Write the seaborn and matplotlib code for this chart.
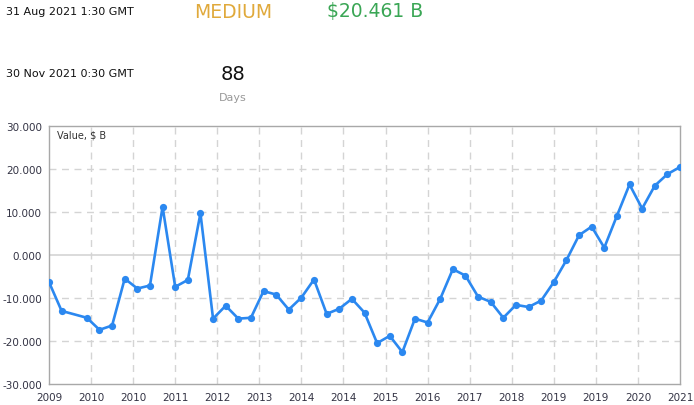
import matplotlib
matplotlib.use("Agg")
import matplotlib.pyplot as plt
import seaborn as sns
import numpy as np
import pandas as pd

# ---- data ----
quarters = pd.period_range("2009Q1", "2021Q3", freq="Q").delete(2)
values = [-6.3, -13.0, -14.6, -17.4, -16.4, -5.5, -7.8, -7.1, 11.2, -7.4,
          -5.8, 9.7, -14.8, -11.8, -14.8, -14.6, -8.4, -9.2, -12.7, -9.9,
          -5.7, -13.7, -12.5, -10.2, -13.4, -20.5, -18.8, -22.6, -14.8, -15.7,
          -10.2, -3.3, -4.8, -9.7, -10.9, -14.6, -11.6, -12.1, -10.6, -6.3,
          -1.2, 4.6, 6.6, 1.7, 9.1, 16.4, 10.8, 16.1, 18.8, 20.461]
x_tick_labels = ["2009", "2010", "2010", "2011", "2012", "2013", "2014", "2014",
                 "2015", "2016", "2017", "2018", "2019", "2019", "2020", "2021"]
y_ticks = [-30, -20, -10, 0, 10, 20, 30]

start_date = "31 Aug 2021 1:30 GMT"
end_date = "30 Nov 2021 0:30 GMT"
impact = "MEDIUM"
actual = "$20.461 B"
days = "88"
days_label = "Days"
series_label = "Value, $ B"

base = pd.Period("2009Q1", freq="Q")
df = pd.DataFrame({
    "t": [(q - base).n for q in quarters],
    "v": values,
})

sns.set_style("white")
plt.rcParams["font.family"] = ["DejaVu Sans"]

fig = plt.figure(figsize=(6.94, 4.06), dpi=100)
ax = fig.add_axes([49 / 694, 1 - 385 / 406, 631 / 694, 258 / 406])

line_color = "#2b88f0"
sns.lineplot(data=df, x="t", y="v", ax=ax, color=line_color, linewidth=1.9,
             marker="o", markersize=5.2, markeredgewidth=0, zorder=3)

t_max = (pd.Period("2021Q3", freq="Q") - base).n
ax.set_xlim(0, t_max)
ax.set_ylim(-30, 30)
xt = np.linspace(0, t_max, len(x_tick_labels))
ax.set_xticks(xt)
ax.set_xticklabels(x_tick_labels)
ax.set_yticks(y_ticks)
ax.set_yticklabels([f"{v:.3f}" for v in y_ticks])
ax.set_xlabel("")
ax.set_ylabel("")

for xv in xt[1:-1]:
    ax.axvline(xv, color="#d4d4d4", linewidth=1, linestyle=(0, (5, 4)), zorder=1)
for yv in y_ticks[1:-1]:
    if yv == 0:
        ax.axhline(yv, color="#d4d4d4", linewidth=1.2, zorder=1)
    else:
        ax.axhline(yv, color="#d4d4d4", linewidth=1, linestyle=(0, (5, 4)), zorder=1)

for s in ax.spines.values():
    s.set_color("#a8a8a8")
    s.set_linewidth(1)
ax.tick_params(axis="both", length=0, labelsize=7.5, colors="#333344", pad=5)
ax.tick_params(axis="x", pad=6)

ax.text(8 / 631, 1 - 9 / 258, series_label, transform=ax.transAxes,
        fontsize=7, color="#333333", ha="left", va="center")

# header texts
def fx(px):
    return px / 694
def fy(py):
    return 1 - py / 406

fig.text(fx(6), fy(12), start_date, fontsize=8, color="#111111", ha="left", va="center")
fig.text(fx(6), fy(74), end_date, fontsize=8, color="#111111", ha="left", va="center")
fig.text(fx(233), fy(12), impact, fontsize=13.5, color="#e0a93b", ha="center", va="center")
fig.text(fx(375), fy(12), actual, fontsize=13.5, color="#3aa655", ha="center", va="center")
fig.text(fx(233), fy(74), days, fontsize=14, color="#111111", ha="center", va="center")
fig.text(fx(233), fy(98), days_label, fontsize=8, color="#999999", ha="center", va="center")

fig.savefig("out.png", dpi=100)
